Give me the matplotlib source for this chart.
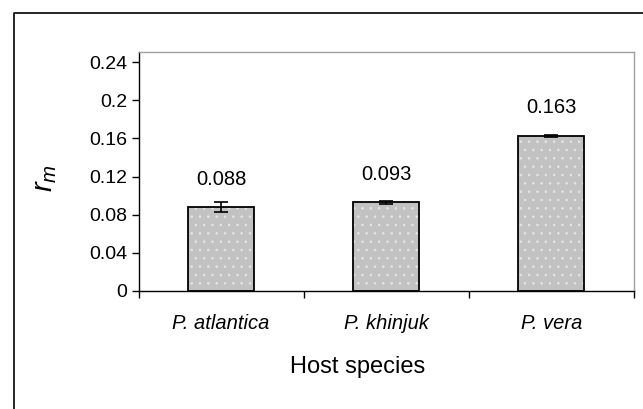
import matplotlib
matplotlib.use("Agg")
import matplotlib.pyplot as plt
from matplotlib.lines import Line2D
import numpy as np

plt.rcParams['font.family'] = ['Liberation Sans', 'DejaVu Sans']
plt.rcParams['mathtext.fontset'] = 'custom'
plt.rcParams['mathtext.it'] = 'Liberation Sans:italic'
plt.rcParams['mathtext.rm'] = 'Liberation Sans'
plt.rcParams['hatch.linewidth'] = 0.6

species = ["P. atlantica", "P. khinjuk", "P. vera"]
rm_values = [0.088, 0.093, 0.163]
rm_errors = [0.005, 0.0015, 0.001]
yticks = [0, 0.04, 0.08, 0.12, 0.16, 0.2, 0.24]
ytick_labels = ["0", "0.04", "0.08", "0.12", "0.16", "0.2", "0.24"]

fig = plt.figure(figsize=(6.43, 4.09), dpi=100)
ax = fig.add_axes([0.2156, 0.2892, 0.77, 0.5844])

x = np.arange(len(species))
# gray fill with faint white dots
ax.bar(x, rm_values, width=0.4, color='#c2c2c2', edgecolor='#e6e6e6',
       hatch='..', linewidth=0, zorder=2)
ax.bar(x, rm_values, width=0.4, color='none', edgecolor='black',
       linewidth=1.3, zorder=3)
ax.errorbar(x, rm_values, yerr=rm_errors, fmt='none', ecolor='black',
            elinewidth=1.2, capsize=5, capthick=1.2, zorder=4)

for xi, v in zip(x, rm_values):
    ax.annotate(f"{v:.3f}", (xi, v), xytext=(0, 20), textcoords='offset points',
                ha='center', va='center', fontsize=14.5)

ax.set_xlim(-0.5, 2.5)
ax.set_ylim(0, 0.2512)
ax.set_yticks(yticks)
ax.set_yticklabels(ytick_labels, fontsize=14)
ax.set_xticks([-0.5, 0.5, 1.5, 2.5])
ax.set_xticklabels([])
ax.set_xticks(x, minor=True)
ax.set_xticklabels(species, minor=True, fontsize=14.5, style='italic')
ax.tick_params(axis='x', which='minor', length=0, pad=17)
ax.tick_params(axis='x', which='major', length=5, direction='out', width=1)
ax.tick_params(axis='y', length=5, direction='out', width=1, pad=3)

for s in ['top', 'right']:
    ax.spines[s].set_color('#a0a0a0')
    ax.spines[s].set_linewidth(1)
for s in ['left', 'bottom']:
    ax.spines[s].set_color('black')
    ax.spines[s].set_linewidth(1)

ax.set_xlabel("Host species", fontsize=17)
ax.xaxis.set_label_coords(0.443, -0.275)
ax.set_ylabel("$r_m$", fontsize=21)
ax.yaxis.set_label_coords(-0.16, 0.47)

# outer chart border (cropped on right and bottom)
fig.add_artist(Line2D([13.5 / 643, 13.5 / 643, 1.0], [0.0, 1 - 12.7 / 409, 1 - 12.7 / 409],
                      transform=fig.transFigure, color='black', linewidth=1.2))

fig.savefig("out.png", dpi=100)
